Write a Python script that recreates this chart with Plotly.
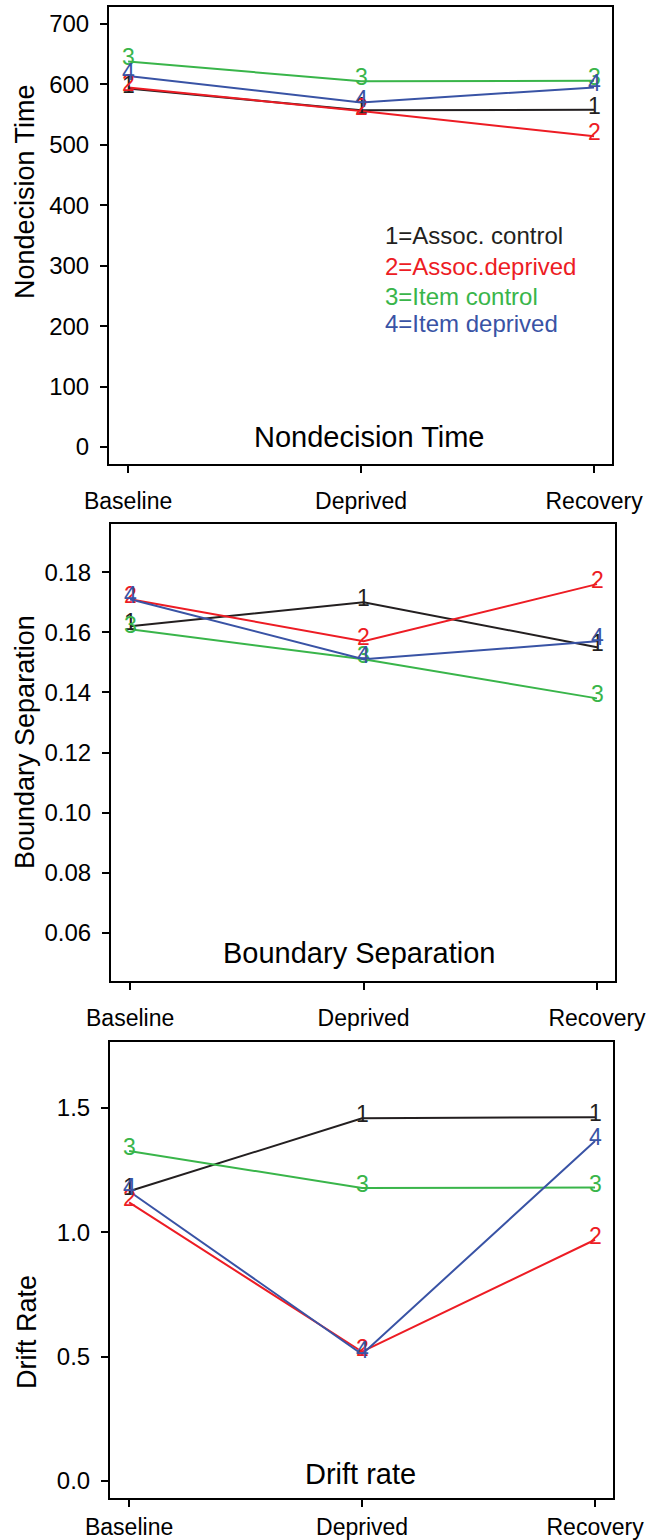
import plotly.graph_objects as go

# ---------------- data ----------------
conditions = ["Baseline", "Deprived", "Recovery"]
series_ids = ["1", "2", "3", "4"]
series_names = ["1=Assoc. control", "2=Assoc.deprived", "3=Item control", "4=Item deprived"]
series_colors = ["#231f20", "#ed1c24", "#39b54a", "#3953a5"]

# Nondecision time
nd_assoc_control = [593, 557, 558]
nd_assoc_deprived = [595, 556, 514]
nd_item_control = [638, 605, 606]
nd_item_deprived = [614, 570, 595]

# Boundary separation
bs_assoc_control = [0.162, 0.170, 0.155]
bs_assoc_deprived = [0.171, 0.157, 0.176]
bs_item_control = [0.161, 0.151, 0.138]
bs_item_deprived = [0.171, 0.151, 0.157]

# Drift rate
dr_assoc_control = [1.165, 1.458, 1.463]
dr_assoc_deprived = [1.12, 0.52, 0.97]
dr_item_control = [1.327, 1.178, 1.18]
dr_item_deprived = [1.165, 0.51, 1.367]

nd_ticks = [0, 100, 200, 300, 400, 500, 600, 700]
bs_ticks = [0.06, 0.08, 0.10, 0.12, 0.14, 0.16, 0.18]
bs_ticktext = ["0.06", "0.08", "0.10", "0.12", "0.14", "0.16", "0.18"]
dr_ticks = [0.0, 0.5, 1.0, 1.5]
dr_ticktext = ["0.0", "0.5", "1.0", "1.5"]

panel_titles = ["Nondecision Time", "Boundary Separation", "Drift rate"]
axis_titles = ["Nondecision Time", "Boundary Separation", "Drift Rate"]

# ---------------- figure ----------------
W, H = 646, 1540
FONT = "Liberation Sans, Arial, Helvetica, sans-serif"

panels = [
    dict(data=[nd_assoc_control, nd_assoc_deprived, nd_item_control, nd_item_deprived],
         px=(109, 612), py=(7, 464), yrange=[-28, 728],
         tickvals=nd_ticks, ticktext=[str(t) for t in nd_ticks],
         title_xy=(369, 437), ytitle_xy=(25, 192), xstandoff=8),
    dict(data=[bs_assoc_control, bs_assoc_deprived, bs_item_control, bs_item_deprived],
         px=(111, 615), py=(524, 981), yrange=[0.044, 0.196],
         tickvals=bs_ticks, ticktext=bs_ticktext,
         title_xy=(359, 953), ytitle_xy=(25, 742), xstandoff=8),
    dict(data=[dr_assoc_control, dr_assoc_deprived, dr_item_control, dr_item_deprived],
         px=(110, 613), py=(1042, 1498), yrange=[-0.068, 1.765],
         tickvals=dr_ticks, ticktext=dr_ticktext,
         title_xy=(360, 1474), ytitle_xy=(27, 1332), xstandoff=0),
]

fig = go.Figure()
annotations = []
layout = dict(
    width=W, height=H,
    margin=dict(l=0, r=0, t=0, b=0, autoexpand=False),
    paper_bgcolor="white", plot_bgcolor="white",
    showlegend=False,
    font=dict(family=FONT, size=24, color="#231f20"),
)

xs = list(range(len(conditions)))

for p_i, p in enumerate(panels):
    n = p_i + 1
    xa = "x" if n == 1 else f"x{n}"
    ya = "y" if n == 1 else f"y{n}"
    for s_i, vals in enumerate(p["data"]):
        fig.add_trace(go.Scatter(
            x=xs, y=vals, mode="lines",
            line=dict(color=series_colors[s_i], width=2),
            xaxis=xa, yaxis=ya, hoverinfo="skip"))
        for xi, v in zip(xs, vals):
            annotations.append(dict(
                x=xi, y=v, xref=xa, yref=ya, text=series_ids[s_i],
                showarrow=False, yshift=4,
                font=dict(family=FONT, size=23, color=series_colors[s_i])))
    x0, x1 = p["px"]
    y0, y1 = p["py"]
    layout[f"xaxis{'' if n == 1 else n}"] = dict(
        domain=[x0 / W, x1 / W], anchor=ya,
        range=[-0.082, 2.077], automargin=False,
        tickvals=xs, ticktext=conditions,
        ticks="outside", ticklen=7, tickwidth=2, tickcolor="#000",
        showline=True, linewidth=2, linecolor="#000", mirror=True,
        showgrid=False, zeroline=False,
        ticklabelstandoff=p["xstandoff"], ticklabeloverflow="allow",
        tickfont=dict(family=FONT, size=23, color="#000"),
    )
    layout[f"yaxis{'' if n == 1 else n}"] = dict(
        domain=[1 - y1 / H, 1 - y0 / H], anchor=xa,
        range=p["yrange"], automargin=False,
        tickvals=p["tickvals"], ticktext=p["ticktext"],
        ticks="outside", ticklen=7, tickwidth=2, tickcolor="#000",
        showline=True, linewidth=2, linecolor="#000", mirror=True,
        showgrid=False, zeroline=False,
        ticklabelstandoff=6, ticklabeloverflow="allow",
        tickfont=dict(family=FONT, size=24, color="#000"),
    )
    tx, ty = p["title_xy"]
    annotations.append(dict(
        x=tx / W, y=1 - ty / H, xref="paper", yref="paper",
        text=panel_titles[p_i], showarrow=False,
        xanchor="center", yanchor="middle",
        font=dict(family=FONT, size=29, color="#000")))
    ax, ay = p["ytitle_xy"]
    annotations.append(dict(
        x=ax / W, y=1 - ay / H, xref="paper", yref="paper",
        text=axis_titles[p_i], showarrow=False, textangle=-90,
        xanchor="center", yanchor="middle",
        font=dict(family=FONT, size=27, color="#000")))

# legend text in first panel
legend_y = [236, 266, 296, 323]
for s_i, name in enumerate(series_names):
    annotations.append(dict(
        x=383 / W, y=1 - legend_y[s_i] / H, xref="paper", yref="paper",
        text=name, showarrow=False, xanchor="left", yanchor="middle",
        font=dict(family=FONT, size=24, color=series_colors[s_i])))

layout["annotations"] = annotations
fig.update_layout(**layout)
fig.write_html("out.html")
